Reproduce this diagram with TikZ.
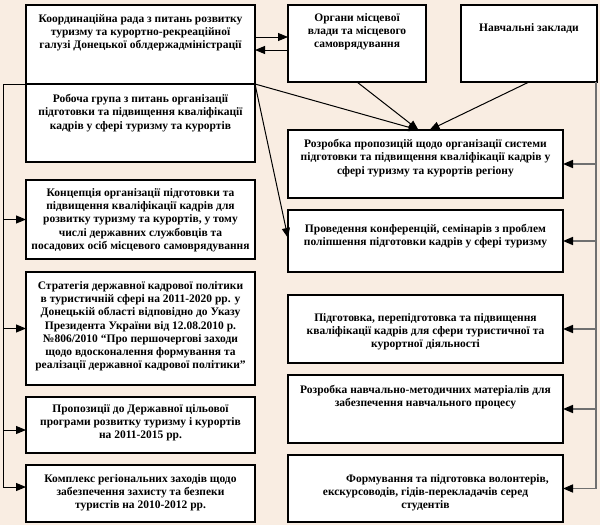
\documentclass[tikz,border=0pt]{standalone}
\usepackage{fontspec}
\setmainfont{Liberation Serif}
\usetikzlibrary{arrows.meta,calc}
\definecolor{bgc}{RGB}{249,237,226}
\definecolor{linegray}{RGB}{112,112,112}
\tikzset{
  box/.style={draw=black, line width=1.9pt, fill=white, rectangle, inner sep=0pt, outer sep=0pt, anchor=north west},
  txt/.style={anchor=north, align=center, inner sep=0pt, font=\bfseries\fontsize{11.5}{13.3}\selectfont},
  plainline/.style={draw=black, line width=1pt},
  blk/.style={draw=black, line width=1pt, -{Triangle[length=10pt,width=8pt]}},
  grayline/.style={draw=linegray, line width=1.6pt},
  gry/.style={draw=linegray, line width=1.6pt, -{Triangle[length=10pt,width=8pt,color=black]}}
}
\begin{document}
\begin{tikzpicture}[x=1pt,y=1pt]
\fill[bgc] (0,0) rectangle (600,-525);
\useasboundingbox (0,0) rectangle (600,-525);

% boxes
\node[box, minimum width=229pt, minimum height=79pt] (A) at (26,-5) {};
\node[box, minimum width=229pt, minimum height=78pt] (B) at (26,-84) {};
\node[box, minimum width=138pt, minimum height=77pt] (C) at (288,-5) {};
\node[box, minimum width=136pt, minimum height=77pt] (D) at (461,-5) {};
\node[box, minimum width=275pt, minimum height=68pt] (E) at (288,-130) {};
\node[box, minimum width=275pt, minimum height=62pt] (F) at (288,-210) {};
\node[box, minimum width=275pt, minimum height=68pt] (G) at (288,-295) {};
\node[box, minimum width=275pt, minimum height=68pt] (H) at (288,-375) {};
\node[box, minimum width=275pt, minimum height=67pt] (I) at (288,-455) {};
\node[box, minimum width=229pt, minimum height=79pt] (J) at (26,-180) {};
\node[box, minimum width=229pt, minimum height=113pt] (K) at (26,-272) {};
\node[box, minimum width=229pt, minimum height=56pt] (L) at (26,-397) {};
\node[box, minimum width=229pt, minimum height=57pt] (M) at (26,-465) {};

% texts
\node[txt] (At) at ($(A.north)+(0,-9)$) {Координаційна рада з питань розвитку\\туризму та курортно-рекреаційної\\галузі Донецької облдержадміністрації};
\node[txt] (Bt) at ($(B.north)+(0,-10)$) {Робоча група з питань організації\\підготовки та підвищення кваліфікації\\кадрів у сфері туризму та курортів};
\node[txt] (Ct) at ($(C.north)+(0,-8)$) {Органи місцевої\\влади та місцевого\\самоврядування};
\node[txt] (Dt) at ($(D.north)+(0,-18)$) {Навчальні заклади};
\node[txt] (Et) at ($(E.north)+(0,-9)$) {Розробка пропозицій щодо організації системи\\підготовки та підвищення кваліфікації кадрів у\\сфері туризму та курортів регіону};
\node[txt] (Ft) at ($(F.north)+(0,-14)$) {Проведення конференцій, семінарів з проблем\\поліпшення підготовки кадрів у сфері туризму};
\node[txt] (Gt) at ($(G.north)+(0,-18)$) {Підготовка, перепідготовка та підвищення\\кваліфікації кадрів для сфери туристичної та\\курортної діяльності};
\node[txt] (Ht) at ($(H.north)+(0,-10)$) {Розробка навчально-методичних матеріалів для\\забезпечення навчального процесу};
\node[txt] (It) at ($(I.north)+(0,-19)$) {\hspace*{44pt}Формування та підготовка волонтерів,\\екскурсоводів, гідів-перекладачів серед\\студентів};
\node[txt] (Jt) at ($(J.north)+(0,-8)$) {Концепція організації підготовки та\\підвищення кваліфікації кадрів для\\розвитку туризму та курортів, у тому\\числі державних службовців та\\посадових осіб місцевого самоврядування};
\node[txt] (Kt) at ($(K.north)+(0,-9)$) {Стратегія державної кадрової політики\\в туристичній сфері на 2011-2020 рр. у\\Донецькій області відповідно до Указу\\Президента України від 12.08.2010 р.\\№806/2010 “Про першочергові заходи\\щодо вдосконалення формування та\\реалізації державної кадрової політики”};
\node[txt] (Lt) at ($(L.north)+(0,-7)$) {Пропозиції до Державної цільової\\програми розвитку туризму і курортів\\на 2011-2015 рр.};
\node[txt] (Mt) at ($(M.north)+(0,-9)$) {Комплекс регіональних заходів щодо\\забезпечення захисту та безпеки\\туристів на 2010-2012 рр.};

% top connectors
\draw[blk] ([yshift=-32pt]A.north east) -- ([yshift=-32pt]C.north west);
\draw[blk] ([yshift=-45pt]C.north west) -- ([yshift=-45pt]A.north east);
\draw[blk] (B.north east) -- ([xshift=-7pt]E.north);
\draw[blk] (C.south) -- ([xshift=-7pt]E.north);
\draw[blk] (D.south) -- ([xshift=4pt]E.north);
\draw[blk] (B.north east) -- ([yshift=3pt]F.west);

% right gray bus
\coordinate (R) at ([xshift=-1pt]D.south east);
\draw[grayline] (R) -- (R |- I.east);
\draw[gry] (R |- E.east) -- (E.east);
\draw[gry] (R |- F.east) -- (F.east);
\draw[gry] (R |- G.east) -- (G.east);
\draw[gry] (R |- H.east) -- (H.east);
\draw[gry] (R |- I.east) -- (I.east);

% left black bus
\coordinate (LT) at ($(B.north west)+(-23,0)$);
\coordinate (Lin) at ([yshift=-5pt]L.west);
\coordinate (Min) at ([yshift=6.5pt]M.west);
\draw[plainline] (B.north west) -- (LT) -- (LT |- Min);
\draw[blk] (LT |- J.west) -- (J.west);
\draw[blk] (LT |- K.west) -- (K.west);
\draw[blk] (LT |- Lin) -- (Lin);
\draw[blk] (LT |- Min) -- (Min);
\end{tikzpicture}
\end{document}
